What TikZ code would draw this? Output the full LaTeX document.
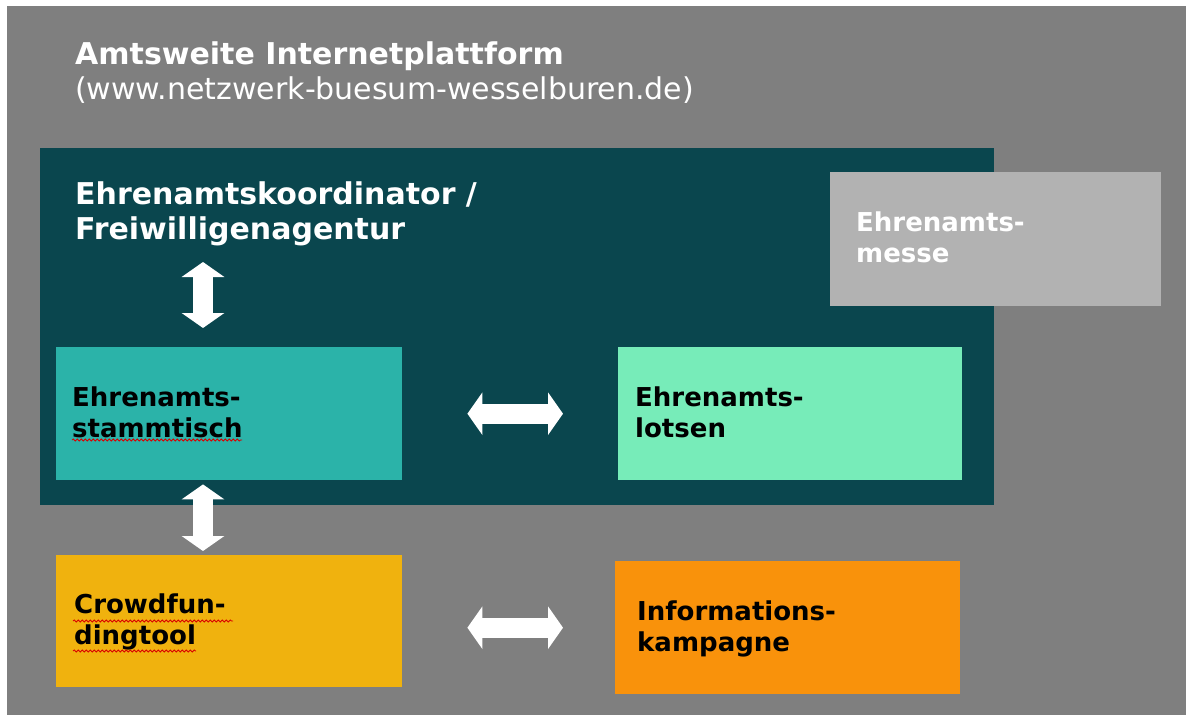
\documentclass[tikz,border=0pt]{standalone}
\usepackage{fontspec}
\setmainfont{DejaVu Sans}
\usetikzlibrary{calc,arrows.meta,decorations.pathmorphing}

\definecolor{framegray}{HTML}{7F7F7F}
\definecolor{agenturteal}{HTML}{0A464E}
\definecolor{stammteal}{HTML}{2BB3A9}
\definecolor{lotsengreen}{HTML}{77ECB9}
\definecolor{crowdyellow}{HTML}{F0B20E}
\definecolor{infoorange}{HTML}{F9920B}
\definecolor{messegray}{HTML}{B2B2B2}

\newcommand\headfont{\fontsize{30}{35}\selectfont}
\newcommand\boxfont{\fontsize{26}{31}\selectfont\bfseries}

\tikzset{
	box/.style={rectangle, anchor=north west, align=left, inner ysep=0pt, font=\boxfont,
		execute at begin node=\rule{0pt}{25pt}, execute at end node=\rule[-9pt]{0pt}{9pt}},
	area/.style={rectangle, anchor=north west, inner sep=0pt},
	dblarrow/.style={draw=white, line width=20pt,
		{Triangle[width=42pt,length=15pt]}-{Triangle[width=42pt,length=15pt]}},
	squiggle/.style={draw=red!85!black, line width=0.8pt, decorate,
		decoration={snake, segment length=4pt, amplitude=1pt}}
}

\begin{document}
\begin{tikzpicture}[x=1pt, y=-1pt]
		%%%%% START %%%%%
		
		\fill[white] (0, 0) rectangle (1188, 722);
		\useasboundingbox (0, 0) rectangle (1188, 722);
		
		\node[area, fill=framegray, minimum width=1179pt, minimum height=709pt] (frame) at (7, 6) {};
		\node[anchor=base west, inner sep=0pt, align=left, text=white, font=\headfont] (plattform)
			at ($(frame.north west)+(68, 94)$) {\bfseries Amtsweite Internetplattform\\(www.netzwerk-buesum-wesselburen.de)};
		
		\node[area, fill=agenturteal, minimum width=954pt, minimum height=357pt] (agentur) at (40, 148) {};
		\node[anchor=base west, inner sep=0pt, align=left, text=white, font=\headfont\bfseries] (koord)
			at ($(agentur.north west)+(35, 91)$) {Ehrenamtskoordinator /\\Freiwilligenagentur};
		
		\node[box, fill=messegray, text=white, text width=279pt, inner xsep=26pt, minimum height=134pt] (messe) at (830, 172) {Ehrenamts-\\messe};
		
		\node[box, fill=stammteal, text width=314pt, inner xsep=16pt, minimum height=133pt] (stamm) at (56, 347) {Ehrenamts-\\stammtisch};
		\node[box, fill=lotsengreen, text width=310pt, inner xsep=17pt, minimum height=133pt] (lotsen) at (618, 347) {Ehrenamts-\\lotsen};
		\node[box, fill=crowdyellow, text width=310pt, inner xsep=18pt, minimum height=132pt] (crowd) at (56, 555) {Crowdfun-\\dingtool};
		\node[box, fill=infoorange, text width=301pt, inner xsep=22pt, minimum height=133pt] (info) at (615, 561) {Informations-\\kampagne};
		
		% arrows
		\coordinate (ax) at ($(stamm.north west)+(147, 0)$);
		\draw[dblarrow, shorten <=19pt] (ax) -- ++(0, -85);
		\draw[dblarrow, shorten <=4pt, shorten >=4pt] (ax |- stamm.south) -- (ax |- crowd.north);
		\draw[dblarrow, shorten <=65pt, shorten >=55pt] (stamm.east) -- (lotsen.west);
		\draw[dblarrow, shorten <=65pt, shorten >=52pt] (crowd.east |- info.west) -- (info.west);
		
		% spelling marks
		\draw[squiggle] ($(stamm.north west)+(16, 93)$) -- ++(170, 0);
		\draw[squiggle] ($(crowd.north west)+(17, 66)$) -- ++(160, 0);
		\draw[squiggle] ($(crowd.north west)+(17, 96)$) -- ++(123, 0);
		
		%%%%% END %%%%%
\end{tikzpicture}
\end{document}
